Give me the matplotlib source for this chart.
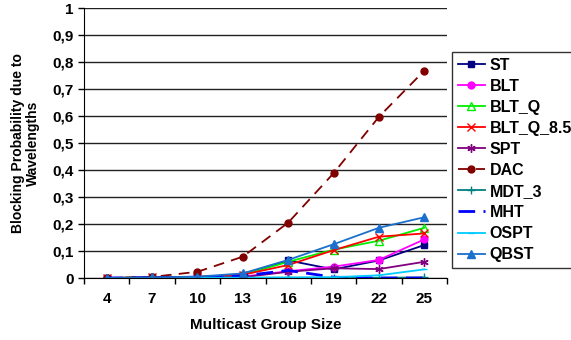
import numpy as np
import matplotlib
matplotlib.use('Agg')
import matplotlib.pyplot as plt
from matplotlib.ticker import FuncFormatter, FixedLocator

plt.rcParams['font.family'] = 'Liberation Sans'
plt.rcParams['font.weight'] = 'bold'

group_sizes = ['4', '7', '10', '13', '16', '19', '22', '25']

st = [0.0, 0.002, 0.004, 0.012, 0.065, 0.032, 0.065, 0.122]
blt = [0.0, 0.001, 0.002, 0.005, 0.025, 0.042, 0.067, 0.143]
blt_q = [0.0, 0.002, 0.003, 0.012, 0.060, 0.105, 0.138, 0.186]
blt_q_85 = [0.0, 0.002, 0.004, 0.012, 0.048, 0.103, 0.153, 0.165]
spt = [0.0, 0.001, 0.002, 0.003, 0.023, 0.036, 0.033, 0.060]
dac = [0.0, 0.004, 0.023, 0.079, 0.205, 0.388, 0.597, 0.768]
mdt_3 = [0.0, 0.0, 0.001, 0.001, 0.001, 0.001, 0.001, 0.002]
mht = [0.0, 0.001, 0.003, 0.008, 0.028, 0.003, 0.0, 0.0]
ospt = [0.0, 0.0, 0.001, 0.001, 0.002, 0.003, 0.010, 0.032]
qbst = [0.0, 0.002, 0.005, 0.017, 0.067, 0.125, 0.186, 0.225]

fig = plt.figure(figsize=(5.71, 3.40), dpi=100)
ax = fig.add_axes([84 / 571, 62 / 340, 363 / 571, 270 / 340])
x = np.arange(len(group_sizes))

ax.plot(x, st, color='#000080', marker='s', ms=5, lw=1.3, label='ST')
ax.plot(x, blt, color='#FF00FF', marker='o', ms=5, lw=1.3, label='BLT')
ax.plot(x, blt_q, color='#00EE00', marker='^', ms=6, mfc='none', lw=1.3, label='BLT_Q')
ax.plot(x, blt_q_85, color='#FF0000', marker='x', ms=6, lw=1.3, label='BLT_Q_8.5')
ax.plot(x, spt, color='#800080', marker=(6, 2, 0), ms=6, lw=1.3, label='SPT')
ax.plot(x, dac, color='#800000', marker='o', ms=5, lw=1.3, ls=(0, (6, 4)), label='DAC')
ax.plot(x, mdt_3, color='#008080', marker='+', ms=6, lw=1.3, label='MDT_3')
ax.plot(x, mht, color='#0000FF', lw=2, ls=(0, (6, 3)), label='MHT')
ax.plot(x, ospt, color='#00CCFF', marker='_', ms=5, lw=1.3, label='OSPT')
ax.plot(x, qbst, color='#1A70CC', marker='^', ms=6, lw=1.3, label='QBST')

ax.set_xlim(-0.5, len(group_sizes) - 0.5)
ax.set_ylim(0, 1)
ax.set_xticks(x)
ax.set_xticklabels(group_sizes)
ax.xaxis.set_minor_locator(FixedLocator(np.arange(-0.5, len(group_sizes), 1)))
ax.tick_params(axis='x', which='major', length=0, pad=10, labelsize=11)
ax.tick_params(axis='x', which='minor', length=4, direction='out', width=1)
ax.set_yticks(np.arange(0, 1.01, 0.1))
ax.yaxis.set_major_formatter(FuncFormatter(lambda v, p: ('%g' % round(v, 1)).replace('.', ',')))
ax.tick_params(axis='y', length=4, direction='out', width=1, labelsize=11)
ax.yaxis.grid(True, color='#222222', lw=1)
ax.set_axisbelow(True)
for s in ['top', 'right']:
    ax.spines[s].set_visible(False)
for s in ['left', 'bottom']:
    ax.spines[s].set_color('black')

ax.set_xlabel('Multicast Group Size', fontsize=11, fontweight='bold', labelpad=9)
ax.set_ylabel('Blocking Probability due to\nWavelengths', fontsize=10, fontweight='bold',
              labelpad=9, linespacing=1.1)

leg = fig.legend(loc='upper left', bbox_to_anchor=(452 / 571, 1 - 52 / 340), fontsize=11.5,
                 frameon=True, fancybox=False, edgecolor='black', handlelength=1.7,
                 handletextpad=0.3, labelspacing=0.38, borderaxespad=0, borderpad=0.35)
leg.get_frame().set_linewidth(1)
for t in leg.get_texts():
    t.set_fontweight('bold')

fig.savefig('out.png', dpi=100)
